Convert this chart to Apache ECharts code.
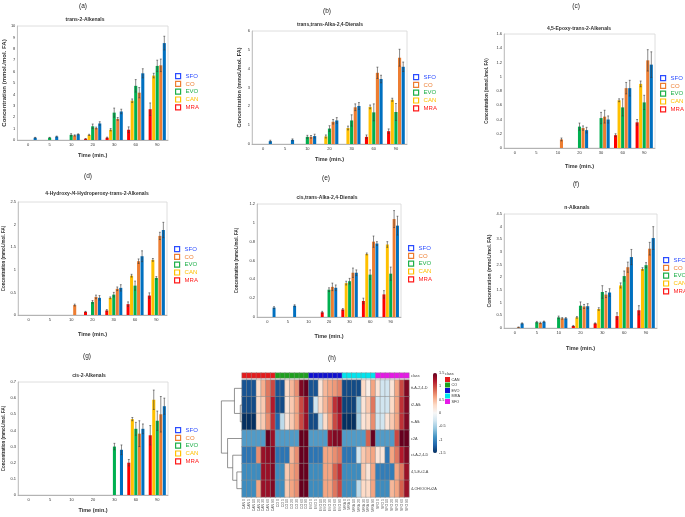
<!DOCTYPE html>
<html><head><meta charset="utf-8">
<script src="https://cdn.jsdelivr.net/npm/echarts/dist/echarts.min.js"></script>
<style>html,body{margin:0;padding:0;background:#fff}#c{width:685px;height:517px}</style>
</head><body><div id="c"></div><script>
const FONT = 'Liberation Sans';
const times = ['0','5','10','20','30','60','90'];
const oils = ['MRA','CAN','EVO','CO','SFO'];          // bar order inside each group
const legendOrder = ['SFO','CO','EVO','CAN','MRA'];

// (a) trans-2-Alkenals   rows: MRA, CAN, EVO, CO, SFO
const valsA = [[0,0,0,0.1,0.2,0.9,2.7],[0,0,0,0.45,0.9,3.45,5.65],[0,0.2,0.45,1.2,2.4,4.75,6.5],[0,0,0.4,1.05,1.85,4.15,6.55],[0.2,0.3,0.5,1.45,2.5,5.85,8.5]];
const errsA = [[0,0,0,0.03,0.05,0.25,0.55],[0,0,0,0.05,0.1,0.15,0.2],[0,0.03,0.1,0.2,0.4,0.55,0.5],[0,0,0.05,0.08,0.12,0.45,0.55],[0.03,0.04,0.04,0.15,0.2,0.4,0.6]];
// (b) trans,trans-Alka-2,4-Dienals
const valsB = [[0,0,0,0,0,0.38,0.68],[0,0,0,0.4,0.85,1.97,2.35],[0,0,0.38,0.82,1.25,1.68,1.7],[0,0,0.38,1.18,1.95,3.78,4.58],[0.15,0.22,0.42,1.25,2.02,3.45,4.1]];
const errsB = [[0,0,0,0,0,0.1,0.12],[0,0,0,0.08,0.1,0.1,0.08],[0,0,0.08,0.15,0.3,0.45,0.45],[0,0,0.07,0.12,0.18,0.3,0.45],[0.05,0.05,0.1,0.15,0.18,0.2,0.25]];
// (c) 4,5-Epoxy-trans-2-Alkenals
const valsC = [[0,0,0,0,0,0.18,0.36],[0,0,0,0,0,0.67,0.9],[0,0,0,0.3,0.42,0.57,0.64],[0,0,0.12,0.28,0.44,0.84,1.23],[0,0,0,0.25,0.4,0.84,1.17]];
const errsC = [[0,0,0,0,0,0.02,0.04],[0,0,0,0,0,0.02,0.04],[0,0,0,0.05,0.08,0.12,0.1],[0,0,0.02,0.03,0.09,0.08,0.15],[0,0,0,0.04,0.05,0.11,0.18]];
// (d) 4-Hydroxy-/4-Hydroperoxy-trans-2-Alkenals
const valsD = [[0,0,0,0.07,0.1,0.24,0.43],[0,0,0,0,0.38,0.87,1.22],[0,0,0,0.29,0.45,0.65,0.82],[0,0,0.22,0.4,0.58,1.19,1.75],[0,0,0,0.38,0.6,1.3,1.88]];
const errsD = [[0,0,0,0.01,0.02,0.05,0.06],[0,0,0,0,0.02,0.03,0.03],[0,0,0,0.03,0.05,0.1,0.03],[0,0,0.02,0.04,0.04,0.05,0.08],[0,0,0,0.05,0.07,0.12,0.17]];
// (e) cis,trans-Alka-2,4-Dienals
const valsE = [[0,0,0,0.05,0.08,0.17,0.24],[0,0,0,0,0.36,0.67,0.77],[0,0,0,0.29,0.38,0.45,0.46],[0,0,0,0.32,0.47,0.8,1.04],[0.1,0.12,0,0.31,0.47,0.78,0.97]];
const errsE = [[0,0,0,0.01,0.01,0.03,0.04],[0,0,0,0,0.02,0.01,0.03],[0,0,0,0.02,0.03,0.05,0.07],[0,0,0,0.04,0.05,0.06,0.09],[0.01,0.01,0,0.03,0.03,0.02,0.1]];
// (f) n-Alkanals
const valsF = [[0,0,0,0.08,0.18,0.47,0.7],[0,0,0,0.42,0.75,1.68,2.33],[0,0.23,0.42,0.88,1.42,2.05,2.48],[0.03,0.2,0.38,0.85,1.32,2.4,3.13],[0.18,0.25,0.38,0.86,1.4,2.8,3.55]];
const errsF = [[0,0,0,0.02,0.02,0.13,0.18],[0,0,0,0.03,0.05,0.1,0.05],[0,0.03,0.05,0.15,0.25,0.2,0.1],[0.01,0.03,0.03,0.08,0.12,0.2,0.25],[0.02,0.02,0.03,0.1,0.15,0.3,0.45]];
// (g) cis-2-Alkenals
const valsG = [[0,0,0,0,0,0.2,0.37],[0,0,0,0,0,0.47,0.59],[0,0,0,0,0.3,0.41,0.46],[0,0,0,0,0,0.38,0.5],[0,0,0,0,0.28,0.41,0.55]];
const errsG = [[0,0,0,0,0,0.02,0.06],[0,0,0,0,0,0.01,0.06],[0,0,0,0,0.02,0.04,0.06],[0,0,0,0,0,0.08,0.11],[0,0,0,0,0.03,0.03,0.05]];

// (h) heatmap
const heatRowNames = ['tt-A-2,4-D','t2-Alk','n-Alk','c2A','ct-A-2,4-D','4,5-E-t2-A','4-OH/OOH-t2A'];
const heatClasses = ['CAN','CO','EVO','MRA','SFO'];
const heatVals = [
 [-1.3,-1.3,-1.3,0.3,0.55,0.8,1.0, -1.3,-1.3,0.3,0.5,0.7,1.4,1.5, -1.3,-1.3,0.2,0.5,0.6,0.65,0.75, -1.35,-1.35,-1.35,-1.35,0.3,0.1,0.6, 0.2,-0.3,-0.3,0.2,0.6,1.0,1.4],
 [-1.35,-1.35,-1.35,0.3,0.4,0.8,1.2, -1.35,-1.35,0.2,0.4,0.6,1.0,1.3, -1.3,-0.3,0.3,0.5,0.7,1.1,1.3, -1.4,-1.4,-1.4,-0.6,0.2,0.4,0.8, -0.3,-0.3,-0.3,0.3,0.6,1.1,1.4],
 [-1.5,-1.5,-1.5,0.3,0.4,0.7,1.1, -1.2,-0.4,0.2,0.4,0.6,1.0,1.3, -1.35,-1.35,-0.4,0.3,0.6,1.0,1.2, -1.5,-1.5,-1.5,-0.5,0.2,0.3,0.7, -0.3,-0.3,0.2,0.4,0.6,1.1,1.4],
 [-0.85,-0.85,-0.85,-0.85,-0.85,1.5,1.3, -0.85,-0.85,-0.85,-0.85,-0.85,1.5,1.5, -0.85,-0.85,-0.85,-0.85,1.3,1.4,1.4, -0.85,-0.85,-0.85,-0.85,-0.85,0.9,1.5, -0.85,-0.85,-0.85,-0.85,1.0,1.5,1.5],
 [-1.1,-1.1,-1.1,0.7,1.3,1.35,1.4, -1.1,-1.1,-1.1,0.5,0.7,1.5,1.5, -1.1,-1.1,-1.1,0.6,0.6,0.7,0.8, -1.1,-1.1,-1.1,-0.3,0.4,0.5,0.6, 0.2,0.2,-1.1,0.6,0.8,1.2,1.4],
 [-0.95,-0.95,-0.95,-0.95,1.3,1.3,1.4, -0.95,-0.95,0.4,0.6,0.7,1.5,1.5, -0.95,-0.95,-0.95,0.6,0.6,0.9,1.1, -0.95,-0.95,-0.95,-0.95,0.4,0.2,0.6, -1.05,-1.05,-1.05,-1.05,0.6,0.8,1.3],
 [-0.95,-0.95,-0.95,0.6,1.3,1.3,1.4, -0.95,-0.95,0.4,0.6,0.7,1.5,1.5, -0.95,-0.95,-0.95,0.6,0.6,0.8,1.0, -0.95,-0.95,-0.95,-0.4,0.3,0.3,0.6, -0.95,-0.95,-0.95,0.5,0.6,0.9,1.3]
];
// dendrogram links: [rowA, rowB, heightA, heightB, mergeHeight]
const dendroLinks = [[1,2,0,0,5],[0,1.5,0,5,22],[5,6,0,0,15],[4,5.5,0,15,27],[3,4.75,0,27,42],[0.75,3.875,22,42,60]];

// ---------- styles ----------
const barColors = {MRA:'#ff0000', CAN:'#ffc000', EVO:'#00b050', CO:'#ed7d31', SFO:'#0070c0'};
const legColors = {SFO:'#2b4cff', CO:'#ed7d31', EVO:'#1fb04a', CAN:'#ffc000', MRA:'#ff1a1a'};
const classColors = ['#e41a1c','#1ea01e','#1010d0','#00e5ee','#e619e6'];
const heatPalette = ['#053061','#2166ac','#4393c3','#92c5de','#d1e5f0','#f7f7f7','#fddbc7','#f4a582','#d6604d','#b2182b','#67001f'];

const panels = [
 {letter:'(a)', title:'trans-2-Alkenals', vals:valsA, errs:errsA, max:10, step:1, box:[14,26,154,114], lx:83, ly:6, tx:85, ty:20, leg:[175,73], yGap:10, yNameSize:6, xGap:12},
 {letter:'(b)', title:'trans,trans-Alka-2,4-Dienals', vals:valsB, errs:errsB, max:6, step:1, box:[252,31,155,113], lx:327, ly:11, tx:330, ty:25, leg:[413,74], yGap:10, yNameSize:5.5, xGap:12},
 {letter:'(c)', title:'4,5-Epoxy-trans-2-Alkenals', vals:valsC, errs:errsC, max:1.6, step:0.2, box:[504,34,151,114], lx:576, ly:6, tx:579, ty:29, leg:[660,75], yGap:15, yNameSize:4.5, xGap:15},
 {letter:'(d)', title:'4-Hydroxy-/4-Hydroperoxy-trans-2-Alkenals', vals:valsD, errs:errsD, max:2.5, step:0.5, box:[15,202,152,113], lx:88, ly:176, tx:97, ty:194, leg:[174,246], yGap:12, yNameSize:4.5, xGap:16},
 {letter:'(e)', title:'cis,trans-Alka-2,4-Dienals', vals:valsE, errs:errsE, max:1.2, step:0.2, box:[257,204,144,113], lx:326, ly:178, tx:327, ty:198, leg:[408,245], yGap:18, yNameSize:4.5, xGap:16},
 {letter:'(f)', title:'n-Alkanals', vals:valsF, errs:errsF, max:4.5, step:0.5, box:[504,214,153,114], lx:576, ly:184, tx:577, ty:208, leg:[663,257], yGap:11, yNameSize:5, xGap:17},
 {letter:'(g)', title:'cis-2-Alkenals', vals:valsG, errs:errsG, max:0.7, step:0.1, box:[15,382,153,113], lx:87, ly:356, tx:89, ty:376, leg:[175,427], yGap:12, yNameSize:4.5, xGap:12}
];

const CAT_GAP = 0.2, BAR_GAP = 0.15;
function errRender(i, n){
  return function(params, api){
    const v = api.value(1), e = api.value(2);
    if (!e || !v) return null;
    const band = api.size([1,0])[0];
    const remained = band*(1-CAT_GAP);
    const bw = remained/(n+(n-1)*BAR_GAP);
    const total = bw*n + bw*BAR_GAP*(n-1);
    const k = api.value(0);
    const c = api.coord([k, v]);
    const x = c[0] - total/2 + i*bw*(1+BAR_GAP) + bw/2;
    const yt = api.coord([k, v+e])[1];
    const yb = api.coord([k, Math.max(0, v-e)])[1];
    const cap = Math.max(0.8, bw*0.3);
    const st = {stroke:'#3a3a3a', lineWidth:0.6};
    return {type:'group', children:[
      {type:'line', shape:{x1:x,y1:yt,x2:x,y2:yb}, style:st},
      {type:'line', shape:{x1:x-cap,y1:yt,x2:x+cap,y2:yt}, style:st},
      {type:'line', shape:{x1:x-cap,y1:yb,x2:x+cap,y2:yb}, style:st}
    ]};
  };
}

const grid=[], xAxis=[], yAxis=[], series=[], legend=[], graphic=[];
panels.forEach((p,pi)=>{
  grid.push({left:p.box[0], top:p.box[1], width:p.box[2], height:p.box[3], show:true, borderColor:'#d6d6d6', borderWidth:0.8});
  xAxis.push({type:'category', gridIndex:pi, data:times,
    axisLabel:{fontSize:4, margin:3, interval:0, color:'#333', fontFamily:FONT},
    axisLine:{lineStyle:{color:'#9a9a9a', width:0.7}}, axisTick:{length:2, lineStyle:{color:'#9a9a9a', width:0.6}},
    name:'Time (min.)', nameLocation:'middle', nameGap:p.xGap,
    nameTextStyle:{fontWeight:'bold', fontSize:5.5, color:'#333', fontFamily:FONT}});
  yAxis.push({type:'value', gridIndex:pi, min:0, max:p.max, interval:p.step,
    axisLabel:{fontSize:4, margin:2, color:'#333', fontFamily:FONT},
    axisLine:{show:true, lineStyle:{color:'#b5b5b5', width:0.7}}, axisTick:{show:false}, splitLine:{show:false},
    name:'Concentration (mmol./mol. FA)', nameLocation:'middle', nameGap:p.yGap, nameRotate:90,
    nameTextStyle:{fontWeight:'bold', fontSize:p.yNameSize, color:'#333', fontFamily:FONT}});
  oils.forEach((o,i)=>{
    series.push({type:'bar', name:o, xAxisIndex:pi, yAxisIndex:pi, data:p.vals[i], barGap:(BAR_GAP*100)+'%', barCategoryGap:(CAT_GAP*100)+'%',
      itemStyle:{color:barColors[o], borderWidth:0}, silent:true});
  });
  oils.forEach((o,i)=>{
    series.push({type:'custom', xAxisIndex:pi, yAxisIndex:pi, z:5, silent:true,
      data:p.vals[i].map((v,k)=>[k, v, p.errs[i][k]]), renderItem:errRender(i, oils.length)});
  });
  legend.push({left:p.leg[0], top:p.leg[1], orient:'vertical', itemWidth:5, itemHeight:5, itemGap:1.6, padding:0, selectedMode:false,
    textStyle:{fontSize:6, fontFamily:FONT},
    data:legendOrder.map(n=>({name:n, icon:'rect', itemStyle:{color:'#ffffff', borderColor:legColors[n], borderWidth:1.2}, textStyle:{color:legColors[n]}}))});
  graphic.push({type:'text', x:p.lx, y:p.ly, style:{text:p.letter, fontSize:6.5, fontFamily:FONT, fill:'#222', align:'center', verticalAlign:'middle', textAlign:'center', textVerticalAlign:'middle'}});
  graphic.push({type:'text', x:p.tx, y:p.ty, style:{text:p.title, fontSize:5, fontWeight:'bold', fontFamily:FONT, fill:'#333', align:'center', verticalAlign:'middle', textAlign:'center', textVerticalAlign:'middle'}});
});

// heatmap
const heatCols = [];
heatClasses.forEach(c=>times.forEach(t=>heatCols.push(c+' '+t)));
const hmGrid = grid.length;
grid.push({left:242, top:380, width:167, height:117});
grid.push({left:242, top:373, width:167, height:5});
grid.push({left:220, top:380, width:22, height:117});
grid.push({left:433, top:373, width:4, height:80});
xAxis.push({type:'category', gridIndex:hmGrid, data:heatCols, axisLabel:{rotate:90, fontSize:3.5, interval:0, margin:2, color:'#555', fontFamily:FONT}, axisLine:{show:false}, axisTick:{show:false}});
yAxis.push({type:'category', gridIndex:hmGrid, data:heatRowNames, inverse:true, position:'right', axisLabel:{fontSize:3.8, margin:2, color:'#444', fontFamily:FONT}, axisLine:{show:false}, axisTick:{show:false}});
xAxis.push({type:'category', gridIndex:hmGrid+1, data:heatCols, show:false});
yAxis.push({type:'category', gridIndex:hmGrid+1, data:['class'], position:'right', axisLabel:{fontSize:3.8, margin:2, color:'#444', fontFamily:FONT}, axisLine:{show:false}, axisTick:{show:false}});
xAxis.push({type:'value', gridIndex:hmGrid+2, min:0, max:64, inverse:true, show:false});
yAxis.push({type:'value', gridIndex:hmGrid+2, min:-0.5, max:6.5, inverse:true, show:false});
xAxis.push({type:'value', gridIndex:hmGrid+3, show:false});
yAxis.push({type:'value', gridIndex:hmGrid+3, min:-1.5, max:1.5, interval:0.5, position:'right', axisLabel:{fontSize:3.8, margin:2, color:'#333', fontFamily:FONT}, axisLine:{show:false}, axisTick:{show:false}, splitLine:{show:false}});

const heatData = [];
heatVals.forEach((row,r)=>row.forEach((v,c)=>heatData.push([c, r, v])));
const hmSeries = series.length;
series.push({type:'heatmap', xAxisIndex:hmGrid, yAxisIndex:hmGrid, data:heatData, silent:true, itemStyle:{borderColor:'#8c8c8c', borderWidth:0.5}});
const clsSeries = series.length;
series.push({type:'heatmap', xAxisIndex:hmGrid+1, yAxisIndex:hmGrid+1, silent:true,
  data:heatCols.map((n,c)=>[c, 0, heatClasses.indexOf(n.split(' ')[0])]), itemStyle:{borderColor:'#8c8c8c', borderWidth:0.4}});
series.push({type:'custom', xAxisIndex:hmGrid+2, yAxisIndex:hmGrid+2, silent:true, data:dendroLinks,
  renderItem:function(params, api){
    const yA=api.value(0), yB=api.value(1), hA=api.value(2), hB=api.value(3), hM=api.value(4);
    return {type:'polyline', shape:{points:[api.coord([hA,yA]), api.coord([hM,yA]), api.coord([hM,yB]), api.coord([hB,yB])]},
      style:{stroke:'#666', lineWidth:0.7, fill:null}};
  }});
graphic.push({type:'text', x:332, y:358, style:{text:'(h)', fontSize:6.5, fontFamily:FONT, fill:'#222', align:'center', verticalAlign:'middle', textAlign:'center', textVerticalAlign:'middle'}});
graphic.push({type:'text', x:445, y:374, style:{text:'class', fontSize:3.8, fontFamily:FONT, fill:'#333', align:'left', verticalAlign:'middle', textAlign:'left', textVerticalAlign:'middle'}});

const chart = echarts.init(document.getElementById('c'), null, {renderer:'canvas'});
chart.setOption({
  animation:false, backgroundColor:'#ffffff',
  textStyle:{fontFamily:FONT},
  grid, xAxis, yAxis, series, legend, graphic,
  visualMap:[
    {type:'continuous', seriesIndex:hmSeries, min:-1.5, max:1.5, inRange:{color:heatPalette}, left:433, top:373, itemWidth:4, itemHeight:80, calculable:false, padding:0, text:null, show:true, hoverLink:false},
    {type:'piecewise', seriesIndex:clsSeries, left:445, top:377, orient:'vertical', inverse:true, align:'left', itemWidth:5, itemHeight:5, itemGap:0.5, textGap:1.5, padding:0, itemSymbol:'rect', selectedMode:false, hoverLink:false,
     textStyle:{fontSize:3.8, color:'#333', fontFamily:FONT},
     pieces:heatClasses.map((c,i)=>({value:i, label:c, color:classColors[i]}))}
  ]
});
</script></body></html>
